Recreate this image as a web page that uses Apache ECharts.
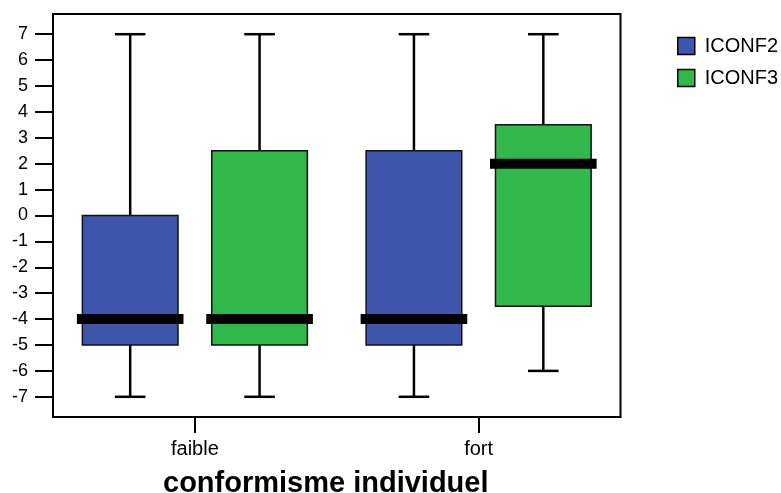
<!DOCTYPE html>
<html>
<head>
<meta charset="utf-8">
<script src="https://cdn.jsdelivr.net/npm/echarts@6/dist/echarts.min.js"></script>
<style>html,body{margin:0;padding:0;background:#fff}#c{width:781px;height:493px}</style>
</head>
<body>
<div id="c"></div>
<script>
// Data
const categories = ['faible', 'fort'];
const seriesNames = ['ICONF2', 'ICONF3'];
// each entry: [min, Q1, median, Q3, max]
const iconf2 = [[-7, -5, -4, 0, 7], [-7, -5, -4, 2.5, 7]];
const iconf3 = [[-7, -5, -4, 2.5, 7], [-6, -3.5, 2, 3.5, 7]];
const yTicks = [-7, -6, -5, -4, -3, -2, -1, 0, 1, 2, 3, 4, 5, 6, 7];
const axisTitle = 'conformisme individuel';

const colors = ['#3D56AB', '#31B84A'];
const FONT = '"Liberation Sans", Arial, Helvetica, sans-serif';

function makeRender(seriesIdx, nSeries) {
  return function (params, api) {
    const cat = api.value(0);
    const band = api.size([1, 0])[0];
    const avail = band * 0.8 - 2;
    const gap = avail / nSeries * 0.3;
    const bw = (avail - gap * (nSeries - 1)) / nSeries;
    const offset = bw / 2 - avail / 2 + seriesIdx * (gap + bw);
    const cx = api.coord([cat, 0])[0] + offset;
    const yMin = api.coord([cat, api.value(1)])[1];
    const yQ1 = api.coord([cat, api.value(2)])[1];
    const yMed = api.coord([cat, api.value(3)])[1];
    const yQ3 = api.coord([cat, api.value(4)])[1];
    const yMax = api.coord([cat, api.value(5)])[1];
    const capW = bw * 0.32;
    const lineStyle = { stroke: '#000', lineWidth: 2.5 };
    return {
      type: 'group',
      children: [
        { type: 'line', shape: { x1: cx, y1: yQ1, x2: cx, y2: yMin }, style: lineStyle },
        { type: 'line', shape: { x1: cx, y1: yQ3, x2: cx, y2: yMax }, style: lineStyle },
        { type: 'line', shape: { x1: cx - capW / 2, y1: yMin, x2: cx + capW / 2, y2: yMin }, style: lineStyle },
        { type: 'line', shape: { x1: cx - capW / 2, y1: yMax, x2: cx + capW / 2, y2: yMax }, style: lineStyle },
        { type: 'rect', shape: { x: cx - bw / 2, y: yQ3, width: bw, height: yQ1 - yQ3 },
          style: { fill: api.visual('color'), stroke: '#111', lineWidth: 1.5 } },
        { type: 'rect', shape: { x: cx - bw / 2 - 5.5, y: yMed - 5, width: bw + 11, height: 10 },
          style: { fill: '#000' } }
      ]
    };
  };
}

function toData(arr) {
  return arr.map((v, i) => [i].concat(v));
}

const allSeries = [iconf2, iconf3];
const chart = echarts.init(document.getElementById('c'), null, { renderer: 'canvas' });
chart.setOption({
  animation: false,
  backgroundColor: '#fff',
  textStyle: { fontFamily: FONT, color: '#000' },
  grid: { left: 53, top: 14, right: 160.5, bottom: 76, show: true, borderColor: '#000', borderWidth: 2, backgroundColor: 'transparent' },
  title: {
    text: axisTitle,
    left: 158, top: 464,
    textStyle: { fontFamily: FONT, fontSize: 29, fontWeight: 'bold', color: '#000' }
  },
  legend: {
    orient: 'vertical', left: 672, top: 31,
    itemWidth: 17, itemHeight: 17, itemGap: 12,
    data: seriesNames.map((n, i) => ({ name: n, icon: 'rect', itemStyle: { color: colors[i], borderColor: '#000', borderWidth: 1.5 } })),
    textStyle: { fontFamily: FONT, fontSize: 20, color: '#000', padding: [0, 0, 0, 5] }
  },
  xAxis: {
    type: 'category',
    data: categories,
    boundaryGap: true,
    axisLine: { onZero: false, lineStyle: { color: '#000', width: 2 } },
    axisTick: { show: true, alignWithLabel: true, interval: 0, length: 16, lineStyle: { color: '#000', width: 2 } },
    axisLabel: { margin: 22, fontSize: 20, color: '#000', fontFamily: FONT },
    splitLine: { show: false }
  },
  yAxis: {
    type: 'value',
    min: -7.78, max: 7.78,
    axisLine: { show: true, onZero: false, lineStyle: { color: '#000', width: 2 } },
    axisTick: { show: true, length: 18, customValues: yTicks, lineStyle: { color: '#000', width: 2 } },
    axisLabel: { margin: 25, fontSize: 18, color: '#000', fontFamily: FONT, customValues: yTicks },
    splitLine: { show: false }
  },
  series: allSeries.map((arr, i) => ({
    name: seriesNames[i],
    type: 'custom',
    itemStyle: { color: colors[i] },
    encode: { x: 0, y: [1, 2, 3, 4, 5] },
    renderItem: makeRender(i, allSeries.length),
    data: toData(arr)
  }))
});
</script>
</body>
</html>
